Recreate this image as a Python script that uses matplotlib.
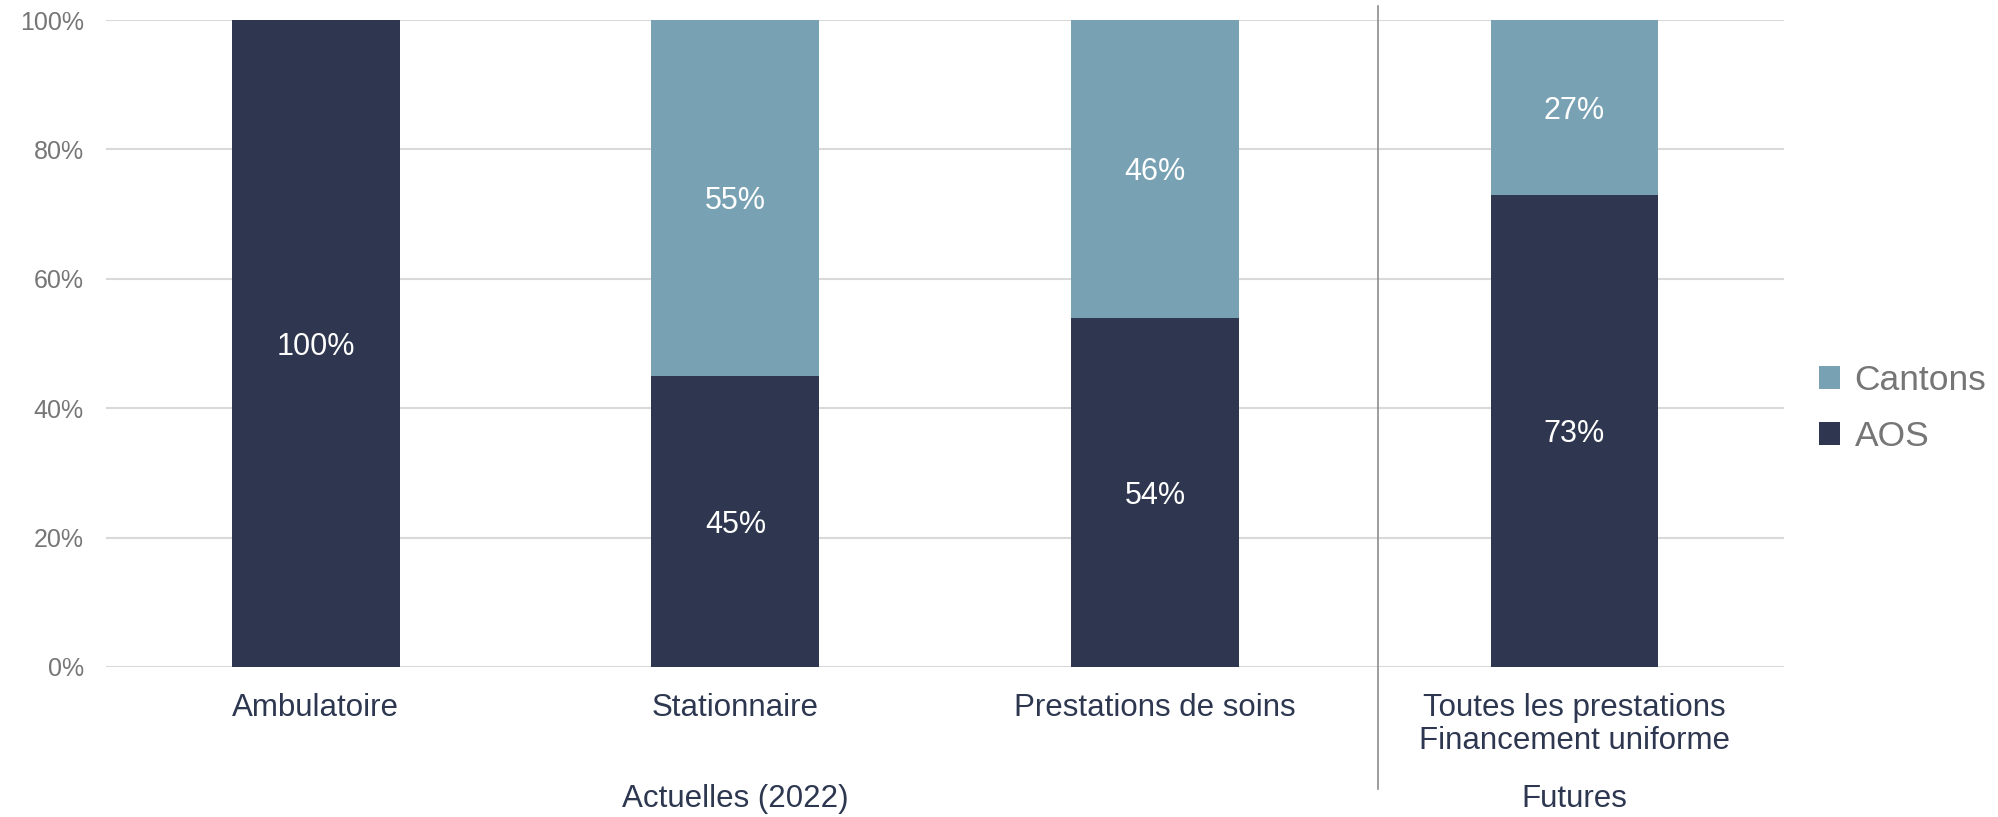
import matplotlib.pyplot as plt
import matplotlib.transforms as mtransforms

plt.rcParams['font.family'] = ['Liberation Sans', 'DejaVu Sans']

categories = ['Ambulatoire', 'Stationnaire', 'Prestations de soins',
              'Toutes les prestations\nFinancement uniforme']
aos = [100, 45, 54, 73]
cantons = [0, 55, 46, 27]
groups = ['Actuelles (2022)', 'Futures']
group_pos = [1, 3]

navy = '#2e374f'
teal = '#78a2b3'
text_col = '#2d3750'
grey = '#767676'

fig = plt.figure(figsize=(19.98, 8.17), dpi=100)
ax = fig.add_axes([0.0531, 0.1836, 0.8399, 0.7919])

x = range(len(categories))
ax.bar(x, aos, width=0.4, color=navy, label='AOS', zorder=3)
ax.bar(x, cantons, width=0.4, bottom=aos, color=teal, label='Cantons', zorder=3)

for i in x:
    ax.text(i, aos[i] / 2, f'{aos[i]}%', ha='center', va='center_baseline',
            color='white', fontsize=22)
    if cantons[i] > 0:
        ax.text(i, aos[i] + cantons[i] / 2, f'{cantons[i]}%', ha='center',
                va='center_baseline', color='white', fontsize=22)

ax.set_xlim(-0.5, 3.5)
ax.set_ylim(0, 100)
ax.set_yticks(range(0, 101, 20))
ax.set_yticklabels([f'{v}%' for v in range(0, 101, 20)])
ax.set_xticks(list(x))
ax.set_xticklabels(categories, linespacing=1.1)
ax.tick_params(axis='y', length=0, pad=16, labelsize=18, labelcolor=grey)
ax.tick_params(axis='x', length=0, pad=19, labelsize=22.5, labelcolor=text_col)
ax.grid(axis='y', color='#d9d9d9', linewidth=1.5, zorder=0)
for s in ax.spines.values():
    s.set_visible(False)

# group labels under the categories
trans = mtransforms.blended_transform_factory(ax.transData, fig.transFigure)
for g, p in zip(groups, group_pos):
    ax.text(p, 1 - 799 / 817, g, transform=trans, ha='center', va='center',
            fontsize=22.5, color=text_col)

# separator between current and future
ax.plot([2.532, 2.532], [1 - 6 / 817, 1 - 789 / 817], transform=trans,
        color='#8c8c8c', linewidth=1.2, clip_on=False)

handles, labels = ax.get_legend_handles_labels()
ax.legend(handles[::-1], labels[::-1], loc='center left',
          bbox_to_anchor=(0.9105, 0.5), bbox_transform=fig.transFigure,
          frameon=False, fontsize=25.5, labelcolor=grey, handlelength=0.6,
          handleheight=0.6, handletextpad=0.4, labelspacing=0.65,
          borderaxespad=0, borderpad=0)

fig.savefig('out.png', dpi=100)
